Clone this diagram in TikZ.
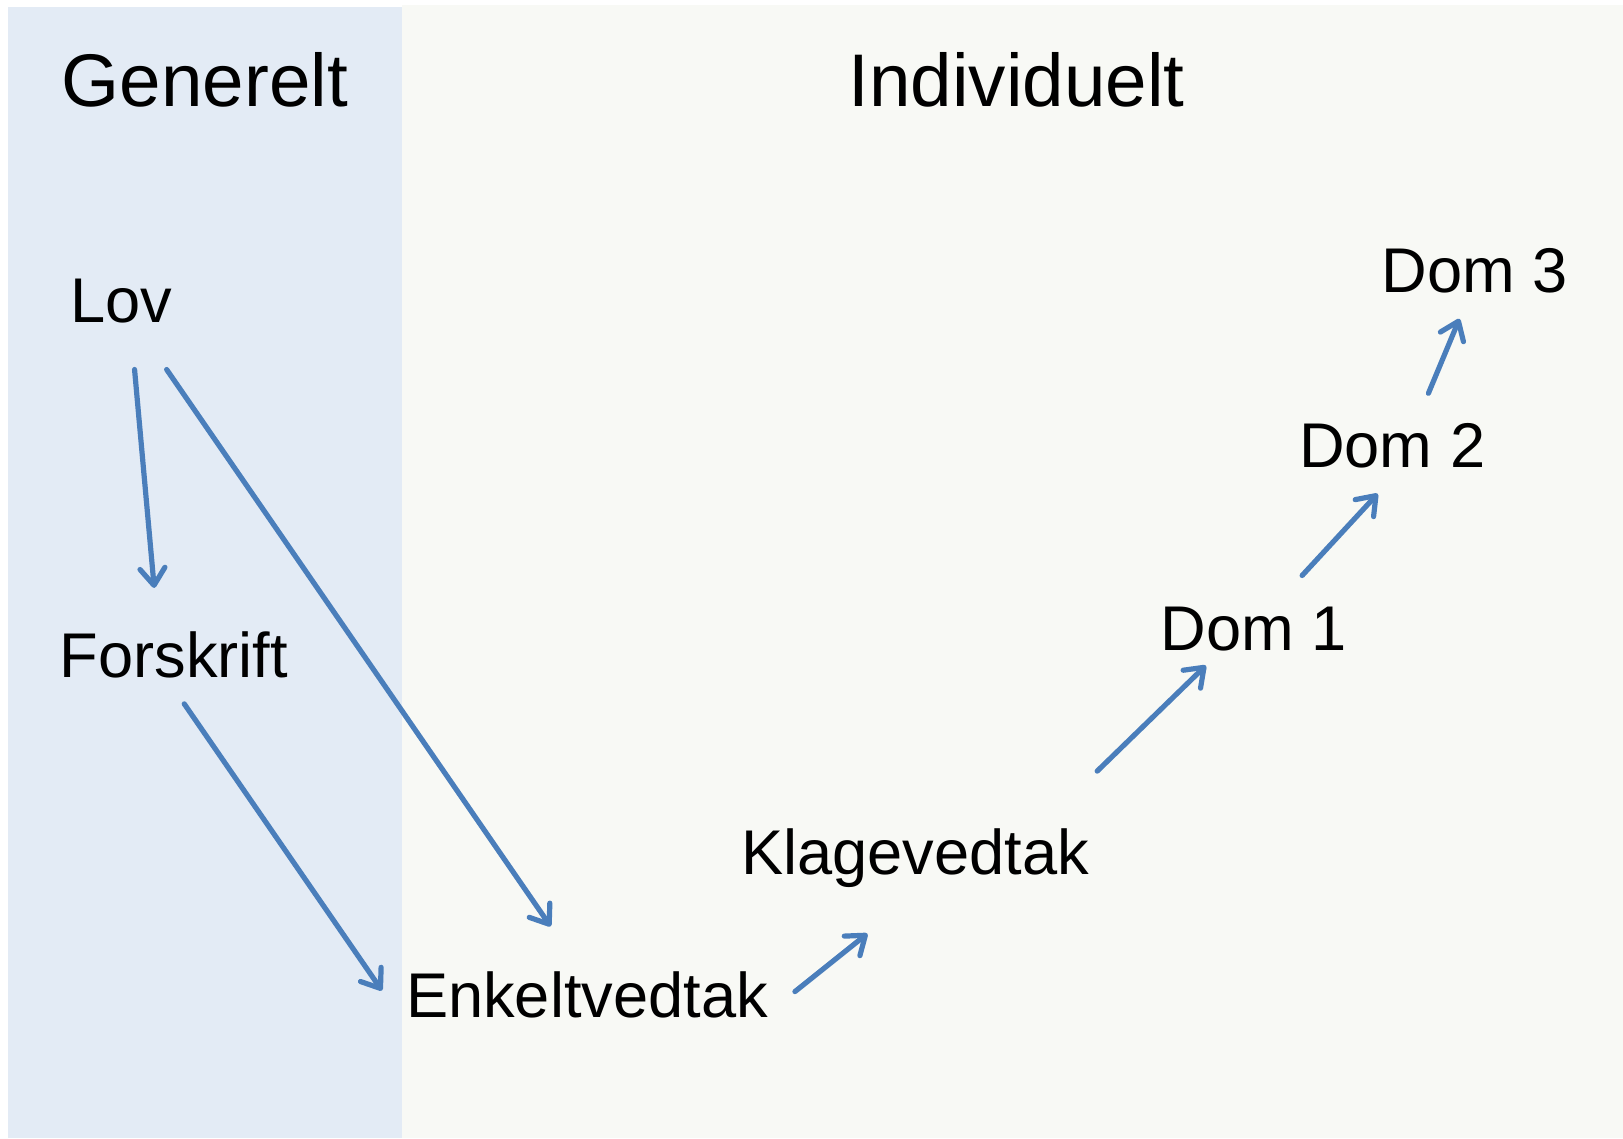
\documentclass[tikz,border=0pt]{standalone}
\usepackage{fontspec}
\setmainfont{Liberation Sans}
\usetikzlibrary{arrows.meta}
\definecolor{genbg}{RGB}{227,235,245}
\definecolor{indbg}{RGB}{248,249,245}
\definecolor{linkblue}{RGB}{74,126,187}

\begin{document}
\begin{tikzpicture}[x=0.51765pt, y=-0.51765pt,
    head/.style={anchor=base, font=\fontsize{37.3}{42}\selectfont, inner sep=0pt},
    term/.style={anchor=base, font=\fontsize{31.6}{36}\selectfont, inner sep=0pt},
    link/.style={draw=linkblue, line width=2.6pt, line cap=round,
      -{Straight Barb[length=8.5pt, width=12.5pt, round]}}]
      \useasboundingbox (0,0) rectangle (1568,1099.5);
      % the two panels
      \fill[genbg] (7.7,6.8) rectangle (388.4,1099.5);
      \fill[indbg] (388.4,4.8) rectangle (1568,1099.5);

      \node[head] (gen) at (198,103) {Generelt};
      \node[head] (ind) at (982,103) {Individuelt};

      \node[term] (lov) at (117,312) {Lov};
      \node[term] (forskrift) at (168,655) {Forskrift};
      \node[term] (enkelt) at (567,983) {Enkeltvedtak};
      \node[term] (klage) at (884,845) {Klagevedtak};
      \node[term] (dom1) at (1211,628) {Dom 1};
      \node[term] (dom2) at (1345,452) {Dom 2};
      \node[term] (dom3) at (1425,283) {Dom 3};

      \draw[link] ([shift={(13,45)}]lov.base) -- ([shift={(-19,-87)}]forskrift.base);
      \draw[link] ([shift={(44,45)}]lov.base) -- ([shift={(-35,-88)}]enkelt.base);
      \draw[link] ([shift={(10,25)}]forskrift.base) -- ([shift={(-198,-26)}]enkelt.base);
      \draw[link] ([shift={(201,-25)}]enkelt.base) -- ([shift={(-46,57)}]klage.base);
      \draw[link] ([shift={(176,-100)}]klage.base) -- ([shift={(-46,15)}]dom1.base);
      \draw[link] ([shift={(47,-72)}]dom1.base) -- ([shift={(-14,25)}]dom2.base);
      \draw[link] ([shift={(35,-72)}]dom2.base) -- ([shift={(-15,25)}]dom3.base);
\end{tikzpicture}
\end{document}
